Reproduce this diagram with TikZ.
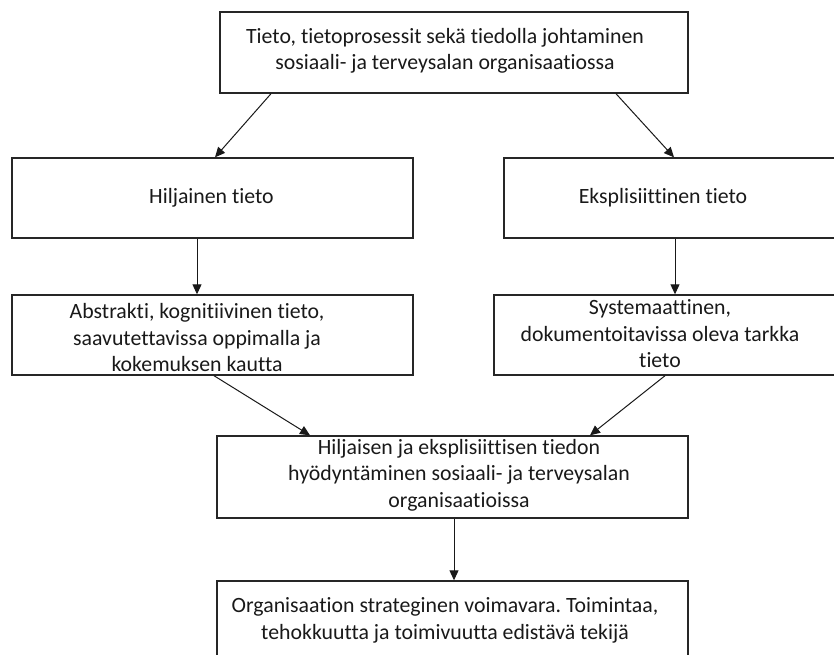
\documentclass[tikz,border=0pt]{standalone}
\usepackage{fontspec}
\setmainfont{Carlito}[Ligatures={NoCommon}]
\usetikzlibrary{arrows.meta}
\frenchspacing
\begin{document}
\begin{tikzpicture}[x=1pt,y=-1pt,
  box/.style={draw=black!85,line width=1.4pt,rectangle,inner sep=0pt,minimum width=#1},
  box/.default=401pt,
  txt/.style={align=center,inner sep=0pt,font=\fontsize{21.8}{26.5}\selectfont\frenchspacing,text=black!90},
  conn/.style={draw=black!90,line width=1pt,-{Triangle[length=10pt,width=9pt]}}]
\useasboundingbox (0,0) rectangle (834,654);
% boxes
\node[box=468pt,minimum height=81pt] (top) at (454,52.5) {};
\node[box,minimum height=80pt] (hil) at (212.5,198) {};
\node[box,minimum height=80pt] (eks) at (704.5,198) {};
\node[box,minimum height=80pt] (abs) at (212.5,335) {};
\node[box,minimum height=80pt] (sys) at (694.5,335) {};
\node[box=471pt,minimum height=82pt] (hyo) at (452.5,477) {};
\node[box=471pt,minimum height=82pt] (org) at (452.5,622) {};
% texts
\node[txt] (topt) at (445,51) {Tieto, tietoprosessit sekä tiedolla johtaminen\\sosiaali- ja terveysalan organisaatiossa};
\node[txt] (hilt) at (211.5,198) {Hiljainen tieto};
\node[txt] (ekst) at (663,198) {Eksplisiittinen tieto};
\node[txt] (abst) at (197,338) {Abstrakti, kognitiivinen tieto,\\saavutettavissa oppimalla ja\\kokemuksen kautta};
\node[txt] (syst) at (660,334) {Systemaattinen,\\dokumentoitavissa oleva tarkka\\tieto};
\node[txt] (hyot) at (459,475) {Hiljaisen ja eksplisiittisen tiedon\\hyödyntäminen sosiaali- ja terveysalan\\organisaatioissa};
\node[txt] (orgt) at (445,620.5) {Organisaation strateginen voimavara. Toimintaa,\\tehokkuutta ja toimivuutta edistävä tekijä};
% connectors
\draw[conn] ([xshift=-183pt]top.south) -- ([xshift=2.5pt]hil.north);
\draw[conn] ([xshift=162pt]top.south) -- ([xshift=-30.5pt]eks.north);
\draw[conn] ([xshift=-15.5pt]hil.south) -- ([xshift=-15.5pt]abs.north);
\draw[conn] ([xshift=-29.5pt]eks.south) -- ([xshift=-19.5pt]sys.north);
\draw[conn] ([xshift=1.5pt]abs.south) -- ([xshift=-142.5pt]hyo.north);
\draw[conn] ([xshift=-29.5pt]sys.south) -- ([xshift=137.5pt]hyo.north);
\draw[conn] ([xshift=1.5pt]hyo.south) -- ([xshift=1.5pt]org.north);
\end{tikzpicture}
\end{document}
